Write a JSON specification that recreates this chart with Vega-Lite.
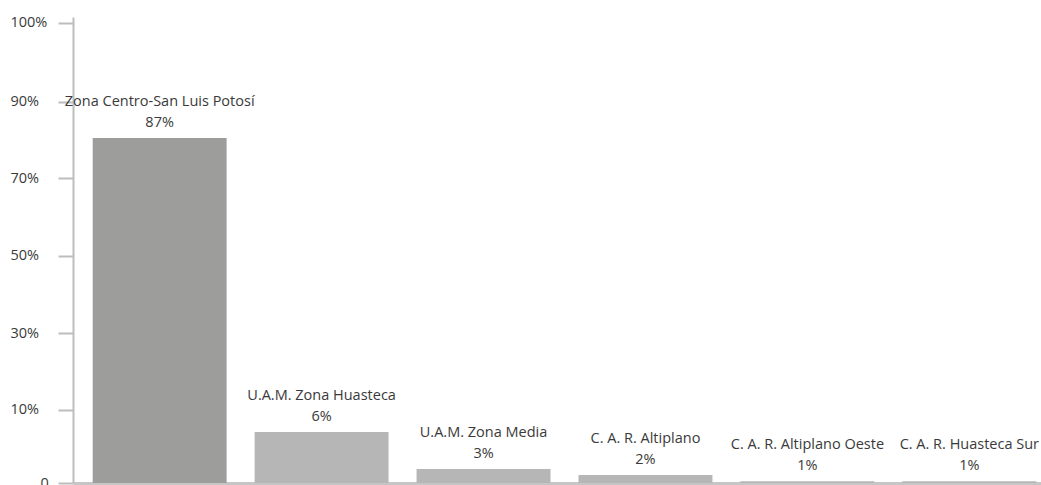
{
  "$schema": "https://vega.github.io/schema/vega-lite/v6.json",
  "width": 983,
  "height": 466,
  "autosize": "none",
  "padding": {"left": 73, "top": 17, "right": 0, "bottom": 2},
  "background": "white",
  "config": {
    "view": {"stroke": null},
    "font": "Open Sans",
    "text": {"font": "Open Sans", "fontSize": 14.5, "color": "#3a3a3a"}
  },
  "data": {
    "values": [
      {"region": "Zona Centro-San Luis Potosí", "bar": 75.0, "pct": "87%"},
      {"region": "U.A.M. Zona Huasteca", "bar": 11.1, "pct": "6%"},
      {"region": "U.A.M. Zona Media", "bar": 3.05, "pct": "3%"},
      {"region": "C. A. R. Altiplano", "bar": 1.75, "pct": "2%"},
      {"region": "C. A. R. Altiplano Oeste", "bar": 0.4, "pct": "1%"},
      {"region": "C. A. R. Huasteca Sur", "bar": 0.4, "pct": "1%"}
    ]
  },
  "encoding": {
    "x": {
      "field": "region",
      "type": "nominal",
      "sort": null,
      "scale": {"paddingInner": 0.173, "paddingOuter": 0.1216},
      "axis": {
        "title": null,
        "labels": false,
        "ticks": false,
        "grid": false,
        "domainColor": "#c6c6c6",
        "domainWidth": 3
      }
    },
    "y": {
      "field": "bar",
      "type": "quantitative",
      "scale": {"domain": [0, 101.3], "nice": false, "zero": true},
      "axis": {
        "title": null,
        "grid": false,
        "values": [0, 15.87, 32.6, 49.4, 66.24, 82.9, 100],
        "labelExpr": "datum.value == 0 ? '0' : datum.value < 20 ? '10%' : datum.value < 40 ? '30%' : datum.value < 55 ? '50%' : datum.value < 70 ? '70%' : datum.value < 90 ? '90%' : '100%'",
        "labelAlign": "left",
        "labelPadding": {"condition": {"test": "datum.value == 0", "value": 18}, "value": 48},
        "labelFont": "Open Sans",
        "labelFontSize": 14.5,
        "labelColor": "#3a3a3a",
        "labelFlush": false,
        "labelOverlap": false,
        "tickSize": 15,
        "tickWidth": 2,
        "tickColor": "#bdbdbd",
        "domainColor": "#bdbdbd",
        "domainWidth": 2
      }
    }
  },
  "layer": [
    {
      "mark": {"type": "bar"},
      "encoding": {
        "color": {
          "condition": {"test": "datum.region === 'Zona Centro-San Luis Potosí'", "value": "#9d9d9c"},
          "value": "#b6b6b6"
        }
      }
    },
    {
      "mark": {"type": "text", "dy": -15, "baseline": "middle", "align": "center"},
      "encoding": {"text": {"field": "pct"}}
    },
    {
      "mark": {"type": "text", "dy": -36, "baseline": "middle", "align": "center"},
      "encoding": {"text": {"field": "region"}}
    }
  ]
}
